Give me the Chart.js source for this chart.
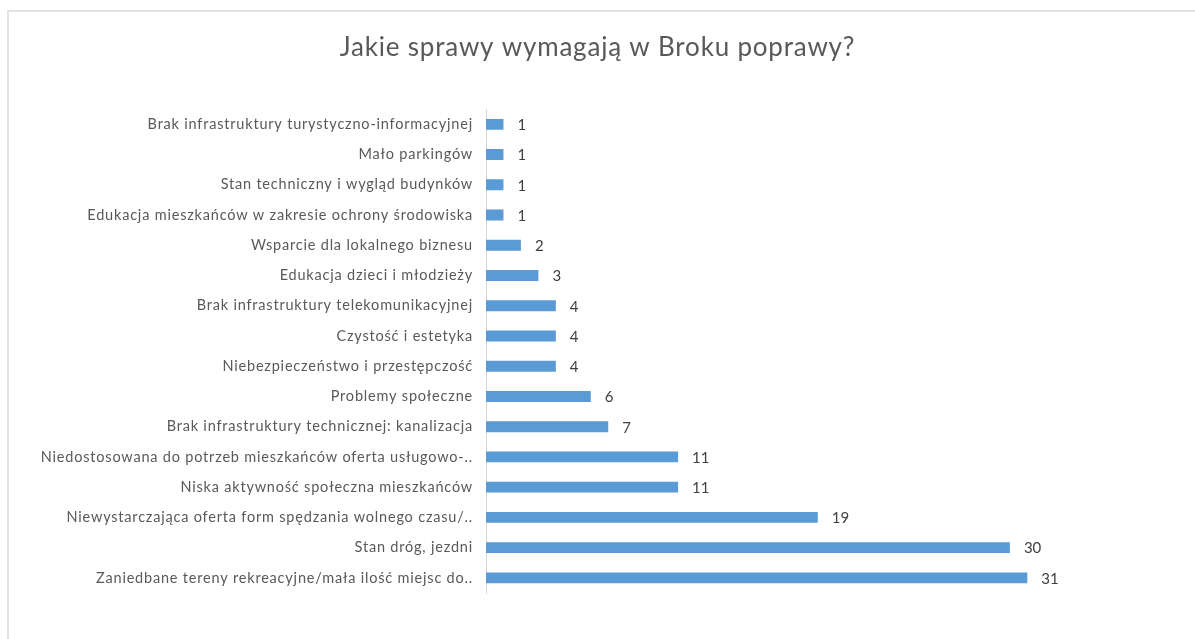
<!DOCTYPE html>
<html>
<head>
<meta charset="utf-8">
<script src="https://cdn.jsdelivr.net/npm/chart.js@4"></script>
<style>
  html, body { margin: 0; padding: 0; background: #fff; overflow: hidden; }
  #frame { position: absolute; left: 7px; top: 10px; width: 1200px; height: 640px;
           border-left: 2px solid #e3e3e3; border-top: 2px solid #e3e3e3; }
  #wrap { position: absolute; left: 0; top: 0; width: 1195px; height: 639px; }
</style>
</head>
<body>
<div id="frame"></div>
<div id="wrap"><canvas id="chart"></canvas></div>
<script>
// categories, top to bottom
const categories = [
  "Brak infrastruktury turystyczno-informacyjnej",
  "Mało parkingów",
  "Stan techniczny i wygląd budynków",
  "Edukacja mieszkańców w zakresie ochrony środowiska",
  "Wsparcie dla lokalnego biznesu",
  "Edukacja dzieci i młodzieży",
  "Brak infrastruktury telekomunikacyjnej",
  "Czystość i estetyka",
  "Niebezpieczeństwo i przestępczość",
  "Problemy społeczne",
  "Brak infrastruktury technicznej: kanalizacja",
  "Niedostosowana do potrzeb mieszkańców oferta usługowo-..",
  "Niska aktywność społeczna mieszkańców",
  "Niewystarczająca oferta form spędzania wolnego czasu/..",
  "Stan dróg, jezdni",
  "Zaniedbane tereny rekreacyjne/mała ilość miejsc do..",
];
const counts = [1, 1, 1, 1, 2, 3, 4, 4, 4, 6, 7, 11, 11, 19, 30, 31];
const titleText = "Jakie sprawy wymagają w Broku poprawy?";

// excel-ish loose letter spacing for title and category labels
const spacing = {
  id: "spacing",
  beforeDraw(chart) { chart.ctx.letterSpacing = "0.8px"; },
  beforeDatasetsDraw(chart) { chart.ctx.letterSpacing = "0px"; },
};

// value labels at bar ends
const valueLabels = {
  id: "valueLabels",
  afterDatasetsDraw(chart) {
    const ctx = chart.ctx;
    const meta = chart.getDatasetMeta(0);
    ctx.save();
    ctx.font = "15px Lato";
    ctx.fillStyle = "#404040";
    ctx.textAlign = "left";
    ctx.textBaseline = "middle";
    meta.data.forEach((bar, i) => {
      ctx.fillText(String(counts[i]), bar.x + 14, bar.y + 1);
    });
    ctx.restore();
  }
};

const config = {
  type: "bar",
  data: {
    labels: categories,
    datasets: [{
      data: counts,
      backgroundColor: "#5b9bd5",
      borderWidth: 0,
      barPercentage: 0.36,
      categoryPercentage: 1,
    }],
  },
  options: {
    indexAxis: "y",
    responsive: false,
    animation: false,
    layout: { padding: { top: 0, right: 0, bottom: 46, left: 0 } },
    plugins: {
      legend: { display: false },
      tooltip: { enabled: false },
      title: {
        display: true,
        text: titleText,
        color: "#595959",
        font: { family: "Lato", size: 26, weight: "normal" },
        padding: { top: 32, bottom: 46 },
      },
    },
    scales: {
      x: { display: false, min: 0, max: 40.6 },
      y: {
        afterFit(scale) { scale.width = 486; },
        grid: { display: false, drawTicks: false },
        border: { display: true, color: "#d9d9d9", width: 1 },
        ticks: {
          color: "#595959",
          padding: 13,
          autoSkip: false,
          font: { family: "Lato", size: 14.5 },
        },
      },
    },
  },
  plugins: [spacing, valueLabels],
};

const canvas = document.getElementById("chart");
canvas.width = 1195;
canvas.height = 639;
const myChart = new Chart(canvas, config);
</script>
</body>
</html>
